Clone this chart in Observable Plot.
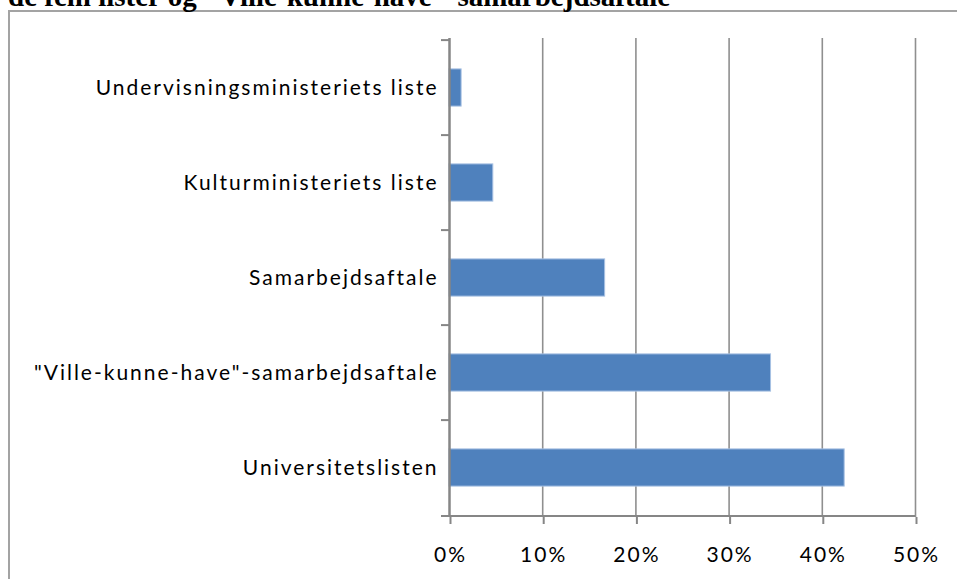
<!DOCTYPE html>
<html>
<head>
<meta charset="utf-8">
<script src="https://cdn.jsdelivr.net/npm/d3@7"></script>
<script src="https://cdn.jsdelivr.net/npm/@observablehq/plot@0.6"></script>
<style>
  html, body { margin: 0; padding: 0; background: #fff; }
  #wrap { position: relative; width: 957px; height: 579px; overflow: hidden; background: #fff; }
  #frame { position: absolute; left: 8px; top: 10px; width: 1000px; height: 700px; border: 2px solid #a3a3a3; box-sizing: border-box; }
  #title { position: absolute; left: 8px; top: -18px; font-family: "Liberation Serif", serif; font-weight: bold; font-size: 29px; line-height: 29px; white-space: nowrap; color: #000; }
  #chart { position: absolute; left: 0; top: 0; }
  #chart text { letter-spacing: 2px; }
</style>
</head>
<body>
<div id="wrap">
  <div id="frame"></div>
  <div id="title">de fem lister og "Ville-kunne-have"-samarbejdsaftale</div>
  <div id="chart"></div>
</div>
<script>
const categories = [
  "Undervisningsministeriets liste",
  "Kulturministeriets liste",
  "Samarbejdsaftale",
  "\"Ville-kunne-have\"-samarbejdsaftale",
  "Universitetslisten"
];
const values = [0.013, 0.047, 0.167, 0.345, 0.424];
const xTicks = [0, 0.1, 0.2, 0.3, 0.4, 0.5];

const data = categories.map((c, i) => ({category: c, value: values[i]}));

const W = 957, H = 579;
const mTop = 38, mBottom = 62, mLeft = 449, mRight = 42;
const step = (H - mTop - mBottom) / categories.length;
const barH = 38;
const inset = (step - barH) / 2;
const pxPerUnit = (W - mLeft - mRight) / 0.5;
const tickLen = 8 / pxPerUnit;

const plot = Plot.plot({
  width: W,
  height: H,
  marginTop: mTop,
  marginBottom: mBottom,
  marginLeft: mLeft,
  marginRight: mRight,
  style: {background: "transparent", fontFamily: "Lato, sans-serif", fontSize: "21px", color: "#000"},
  x: {domain: [0, 0.5], ticks: xTicks},
  y: {domain: categories, padding: 0},
  marks: [
    Plot.ruleX(xTicks.slice(1), {stroke: "#8f8f8f", strokeWidth: 1.6}),
    Plot.barX(data, {x: "value", y: "category", fill: "#4f81bd", stroke: "#a7c1e3", strokeWidth: 1, insetTop: inset, insetBottom: inset}),
    Plot.ruleY(categories, {y: d => d, dy: -step / 2, x1: -tickLen, x2: 0, stroke: "#868686", strokeWidth: 2}),
    Plot.ruleY(categories.slice(-1), {y: d => d, dy: step / 2, x1: -tickLen, x2: 0.5, stroke: "#868686", strokeWidth: 2}),
    Plot.ruleX([0], {stroke: "#868686", strokeWidth: 2.5}),
    Plot.axisX({ticks: xTicks, tickFormat: d => Math.round(d * 100) + "%", tickSize: 7, tickPadding: 23, stroke: "#868686", strokeWidth: 2, label: null, fontSize: 21, dx: 1}),
    Plot.axisY({tickSize: 0, tickPadding: 11, label: null, fontSize: 21})
  ]
});
document.getElementById("chart").appendChild(plot);
</script>
</body>
</html>
